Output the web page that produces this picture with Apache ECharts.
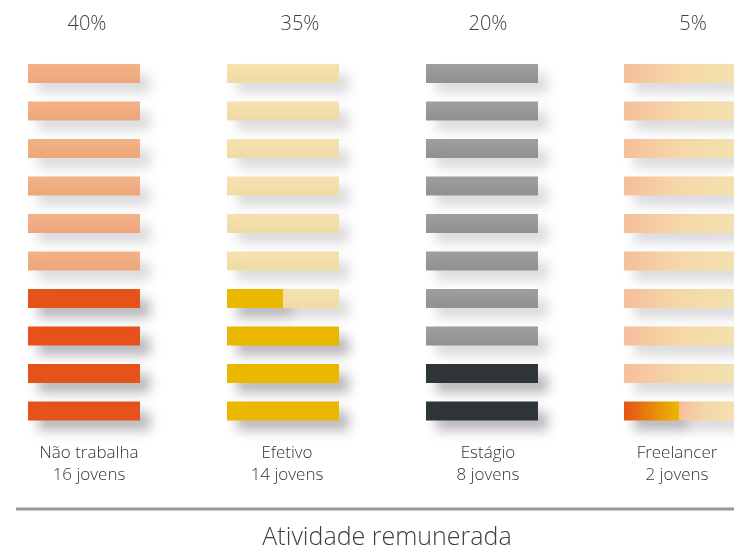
<!DOCTYPE html>
<html>
<head>
<meta charset="utf-8">
<script src="https://cdn.jsdelivr.net/npm/echarts@6/dist/echarts.min.js"></script>
<style>
  html, body { margin: 0; padding: 0; background: #fff; }
  #chart { width: 734px; height: 550px; }
</style>
</head>
<body>
<div id="chart"></div>
<script>
// dados
const categorias = ["Não trabalha", "Efetivo", "Estágio", "Freelancer"];
const jovens = [16, 14, 8, 2];
const percentuais = [40, 35, 20, 5];
const linhas = ["1", "2", "3", "4", "5", "6", "7", "8", "9", "10"]; // cada barra = 10%
const titulo = "Atividade remunerada";

// cores de cada grupo: cheio / vazio
const corCheio = [
  "#e5531a",
  "#ebb800",
  "#2e3538",
  { type: "linear", x: 0, y: 0, x2: 1, y2: 0, colorStops: [{ offset: 0, color: "#e5531a" }, { offset: 1, color: "#ebb800" }] }
];
const corVazio = [
  { type: "linear", x: 0, y: 0, x2: 0, y2: 1, colorStops: [{ offset: 0, color: "#f3b287" }, { offset: 1, color: "#eda67c" }] },
  { type: "linear", x: 0, y: 0, x2: 0, y2: 1, colorStops: [{ offset: 0, color: "#f6e2ae" }, { offset: 1, color: "#f0dba6" }] },
  { type: "linear", x: 0, y: 0, x2: 0, y2: 1, colorStops: [{ offset: 0, color: "#a09e9e" }, { offset: 1, color: "#928f8f" }] },
  { type: "linear", x: 0, y: 0, x2: 1, y2: 0, colorStops: [{ offset: 0, color: "#f5bf9b" }, { offset: 0.5, color: "#f6d7a8" }, { offset: 1, color: "#f2e1ae" }] }
];

const lefts = [28, 227, 426, 624];
const centroPct = [82, 295, 483, 688];
const centroRot = [84, 282, 483, 672];
const fonte = "'Open Sans', Lato, sans-serif";

const grids = [], xAxes = [], yAxes = [], series = [], titles = [];
categorias.forEach((cat, g) => {
  grids.push({ left: lefts[g], width: 112, top: 54.75, height: 375 });
  xAxes.push({ gridIndex: g, type: "value", min: 0, max: 1, show: false });
  yAxes.push({ gridIndex: g, type: "category", data: linhas, show: false });
  // quanto de cada barra (de baixo para cima) está preenchido
  const cheio = linhas.map((_, i) => Math.max(0, Math.min(1, percentuais[g] / 10 - i)));
  const vazio = cheio.map((v) => 1 - v);
  series.push({
    type: "bar", xAxisIndex: g, yAxisIndex: g, stack: "s" + g, barWidth: 19,
    data: cheio, silent: true,
    itemStyle: { color: corCheio[g], shadowBlur: 12, shadowOffsetX: 10, shadowOffsetY: 10, shadowColor: "rgba(60,50,60,0.35)" }
  });
  series.push({
    type: "bar", xAxisIndex: g, yAxisIndex: g, stack: "s" + g, barWidth: 19,
    data: vazio, silent: true,
    itemStyle: { color: corVazio[g], shadowBlur: 12, shadowOffsetX: 10, shadowOffsetY: 10, shadowColor: "rgba(60,50,60,0.18)" }
  });
  titles.push({
    text: percentuais[g] + "%", left: centroPct[g], top: 9, textAlign: "center",
    textStyle: { fontFamily: fonte, fontWeight: 300, fontSize: 20, color: "#3e3e3e" }
  });
  titles.push({
    text: cat + "\n" + jovens[g] + " jovens", left: centroRot[g], top: 437, textAlign: "center",
    textStyle: { fontFamily: fonte, fontWeight: 300, fontSize: 17, lineHeight: 22, color: "#333" }
  });
});
titles.push({
  text: titulo, left: 382, top: 520, textAlign: "center",
  textStyle: { fontFamily: fonte, fontWeight: 300, fontSize: 25, color: "#3e3e3e" }
});

const chart = echarts.init(document.getElementById("chart"));
chart.setOption({
  animation: false,
  title: titles,
  grid: grids,
  xAxis: xAxes,
  yAxis: yAxes,
  series,
  graphic: [{
    type: "line", shape: { x1: 16, y1: 509, x2: 734, y2: 509 },
    style: { stroke: "#9a9a94", lineWidth: 3 }
  }]
});
</script>
</body>
</html>
